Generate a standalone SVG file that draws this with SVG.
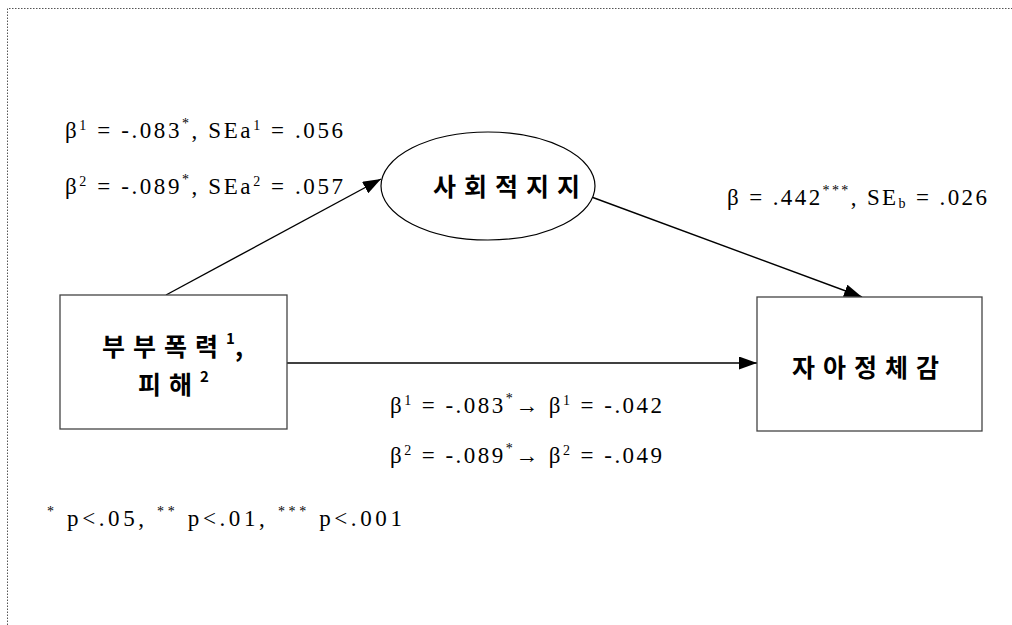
<svg xmlns="http://www.w3.org/2000/svg" width="1012" height="625" viewBox="0 0 1012 625">
<style>
.num{font-family:"Liberation Serif","DejaVu Serif",serif;font-size:23px;fill:#000}
.sup{font-size:14px}
.ko{font-family:"Noto Sans CJK KR","Noto Sans",sans-serif;font-size:25px;font-weight:bold;fill:#000;letter-spacing:8px}
.box{fill:#fff;stroke:#444;stroke-width:1.3}
</style>
<defs>
<marker id="ahb" viewBox="0 0 10 10" refX="10" refY="5" markerWidth="18" markerHeight="13" markerUnits="userSpaceOnUse" orient="auto" preserveAspectRatio="none">
<path d="M0,0 L10,5 L0,10 Z" fill="#000"/>
</marker>
</defs>
<rect x="0" y="0" width="1012" height="625" fill="#fff"/>
<path d="M7.5,625 V8.5 H1012" fill="none" stroke="#555" stroke-width="1" stroke-dasharray="1.5 1.5"/>

<g id="connectors">
<line x1="166" y1="295" x2="381" y2="179" stroke="#000" stroke-width="1.4" marker-end="url(#ahb)"/>
<line x1="578" y1="192" x2="862" y2="297" stroke="#000" stroke-width="1.4" marker-end="url(#ahb)"/>
<line x1="287" y1="363" x2="757" y2="363" stroke="#000" stroke-width="1.4" marker-end="url(#ahb)"/>
</g>

<g id="node-violence">
<rect class="box" x="60" y="295" width="227" height="134"/>
<text class="ko" x="102" y="356">부부폭력<tspan font-size="15" dy="-12" letter-spacing="0">1</tspan><tspan dy="12" letter-spacing="0">,</tspan></text>
<text class="ko" x="138" y="394">피해<tspan font-size="15" dy="-12" letter-spacing="0">2</tspan></text>
</g>

<g id="node-support">
<ellipse cx="488" cy="186" rx="107" ry="54" fill="#fff" stroke="#000" stroke-width="1.2"/>
<text class="ko" x="433" y="196">사회적지지</text>
</g>

<g id="node-identity">
<rect class="box" x="757" y="297" width="225" height="134"/>
<text class="ko" x="792" y="377">자아정체감</text>
</g>

<g id="labels">
<text class="num" x="65" y="138" textLength="278" lengthAdjust="spacing">β<tspan class="sup" dy="-8">1</tspan><tspan dy="8"> = -.083</tspan><tspan class="sup" dy="-10">*</tspan><tspan dy="10">,  SEa</tspan><tspan class="sup" dy="-8">1</tspan><tspan dy="8"> = .056</tspan></text>
<text class="num" x="65" y="194" textLength="278" lengthAdjust="spacing">β<tspan class="sup" dy="-8">2</tspan><tspan dy="8"> = -.089</tspan><tspan class="sup" dy="-10">*</tspan><tspan dy="10">,  SEa</tspan><tspan class="sup" dy="-8">2</tspan><tspan dy="8"> = .057</tspan></text>
<text class="num" x="727" y="205" textLength="260" lengthAdjust="spacing">β = .442<tspan class="sup" dy="-10">***</tspan><tspan dy="10">,  SE</tspan><tspan class="sup" dy="3">b</tspan><tspan dy="-3"> = .026</tspan></text>
<text class="num" x="390" y="413" textLength="272" lengthAdjust="spacing">β<tspan class="sup" dy="-8">1</tspan><tspan dy="8"> = -.083</tspan><tspan class="sup" dy="-10">*</tspan><tspan dy="10">→ β</tspan><tspan class="sup" dy="-8">1</tspan><tspan dy="8"> = -.042</tspan></text>
<text class="num" x="390" y="463" textLength="272" lengthAdjust="spacing">β<tspan class="sup" dy="-8">2</tspan><tspan dy="8"> = -.089</tspan><tspan class="sup" dy="-10">*</tspan><tspan dy="10">→ β</tspan><tspan class="sup" dy="-8">2</tspan><tspan dy="8"> = -.049</tspan></text>
<text class="num" x="47" y="526" textLength="355" lengthAdjust="spacing"><tspan class="sup" dy="-10">*</tspan><tspan dy="10">  p&lt;.05,  </tspan><tspan class="sup" dy="-10">**</tspan><tspan dy="10">  p&lt;.01,  </tspan><tspan class="sup" dy="-10">***</tspan><tspan dy="10">  p&lt;.001</tspan></text>
</g>
</svg>
